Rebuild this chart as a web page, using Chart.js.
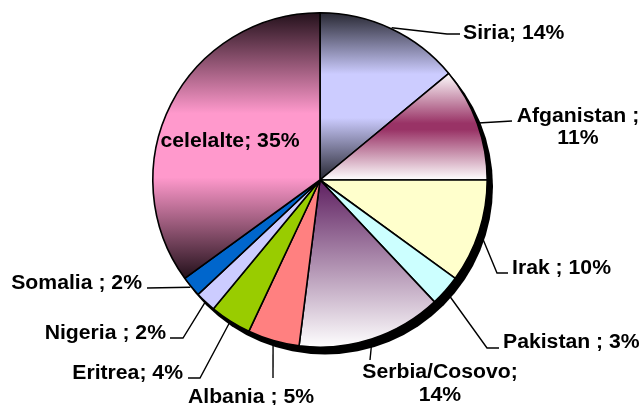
<!DOCTYPE html>
<html>
<head>
<meta charset="utf-8">
<script src="https://cdn.jsdelivr.net/npm/chart.js@4/dist/chart.umd.min.js"></script>
<style>
html,body{margin:0;padding:0;background:#fff;}
canvas{display:block;}
</style>
</head>
<body>
<canvas id="c" width="642" height="405"></canvas>
<script>
// ---- data ----
const categories = ['Siria', 'Afganistan', 'Irak', 'Pakistan', 'Serbia/Cosovo', 'Albania', 'Eritrea', 'Nigeria', 'Somalia', 'celelalte'];
const values = [14, 11, 10, 3, 14, 5, 4, 2, 2, 35];
const labelLines = [
  ['Siria; 14%'],
  ['Afganistan ;', '11%'],
  ['Irak ; 10%'],
  ['Pakistan ; 3%'],
  ['Serbia/Cosovo;', '14%'],
  ['Albania ; 5%'],
  ['Eritrea; 4%'],
  ['Nigeria ; 2%'],
  ['Somalia ; 2%'],
  ['celelalte; 35%']
];

// ---- styles ----
const fills = [
  {type: 'mid', edge: '#262630', mid: '#ccccff', w: 0.13},
  {type: 'mid', edge: '#ffffff', mid: '#993366', w: 0.03},
  '#ffffcc',
  '#ccffff',
  {type: 'lin', top: '#5e1f60', bottom: '#ffffff'},
  '#ff8080',
  '#99cc00',
  '#ccccff',
  '#0066cc',
  {type: 'mid', edge: '#22101a', mid: '#ff99cc', w: 0.12}
];
const solidFallback = ['#ccccff', '#993366', '#ffffcc', '#ccffff', '#996699', '#ff8080', '#99cc00', '#ccccff', '#0066cc', '#ff99cc'];

// label layout, offsets from pie centre
const labelLayout = [
  {pts: [[127, -146], [140, -146]], tx: 143, ty: [-147], align: 'left'},
  {pts: [[192, -59]], tx: 258, ty: [-64, -42], align: 'center'},
  {pts: [[177, 93], [188, 93]], tx: 192, ty: [88], align: 'left'},
  {pts: [[167, 168], [179, 168]], tx: 183, ty: [162], align: 'left'},
  {pts: [[50, 180]], tx: 120, ty: [192, 215], align: 'center'},
  {pts: [[-47, 198]], tx: -69, ty: [217], align: 'center'},
  {pts: [[-120, 198], [-132, 198]], tx: -137, ty: [193], align: 'right'},
  {pts: [[-137, 158], [-150, 158]], tx: -154, ty: [153], align: 'right'},
  {pts: [[-173, 108]], tx: -178, ty: [103], align: 'right'},
  {pts: null, tx: -90, ty: [-39], align: 'center'}
];

const total = values.reduce((a, b) => a + b, 0);

function geom(chart) {
  const area = chart.chartArea;
  const cx = (area.left + area.right) / 2;
  const cy = (area.top + area.bottom) / 2;
  const r = Math.min(area.right - area.left, area.bottom - area.top) / 2;
  return {cx, cy, r};
}

function sliceYRange(cx, cy, r, a0, a1) {
  let ys = [cy, cy + r * Math.sin(a0), cy + r * Math.sin(a1)];
  const norm = a => { while (a < a0) a += 2 * Math.PI; return a; };
  if (norm(-Math.PI / 2) <= a1) ys.push(cy - r);
  if (norm(Math.PI / 2) <= a1) ys.push(cy + r);
  return [Math.min(...ys), Math.max(...ys)];
}

function bg(ctx) {
  const chart = ctx.chart;
  const i = ctx.dataIndex;
  const f = fills[i];
  if (typeof f === 'string') return f;
  if (!chart.chartArea) return solidFallback[i];
  const {cx, cy, r} = geom(chart);
  let before = 0;
  for (let k = 0; k < i; k++) before += values[k];
  const a0 = -Math.PI / 2 + before / total * 2 * Math.PI;
  const a1 = a0 + values[i] / total * 2 * Math.PI;
  const [y0, y1] = sliceYRange(cx, cy, r, a0, a1);
  const g = chart.ctx.createLinearGradient(0, y0, 0, y1);
  if (f.type === 'mid') {
    g.addColorStop(0, f.edge);
    g.addColorStop(0.5 - f.w, f.mid);
    g.addColorStop(0.5 + f.w, f.mid);
    g.addColorStop(1, f.edge);
  } else {
    g.addColorStop(0, f.top);
    g.addColorStop(1, f.bottom);
  }
  return g;
}

const shadowAndLabels = {
  id: 'pieShadowLabels',
  afterDatasetsDraw(chart) {
    const meta = chart.getDatasetMeta(0);
    const c = chart.ctx;
    const first = meta.data[0];
    const px = first.x, py = first.y, pr = first.outerRadius;
    // drop shadow: fill an offset disc, clipped to the outside of the pie
    c.save();
    c.beginPath();
    c.rect(0, 0, chart.width, chart.height);
    c.arc(px, py, pr, 0, 2 * Math.PI, true);
    c.closePath();
    c.clip('evenodd');
    c.fillStyle = '#000000';
    c.beginPath();
    c.arc(px + 5, py + 6.5, pr + 0.8, 0, 2 * Math.PI);
    c.fill();
    c.restore();

    c.save();
    c.font = 'bold 20px "Liberation Sans", Arial, sans-serif';
    c.fillStyle = '#000';
    c.strokeStyle = '#000';
    c.lineWidth = 1.4;
    c.textBaseline = 'middle';
    meta.data.forEach((arc, i) => {
      const cx = arc.x, cy = arc.y;
      const L = labelLayout[i];
      if (L.pts) {
        const mid = (arc.startAngle + arc.endAngle) / 2;
        const r = arc.outerRadius + 1;
        c.beginPath();
        c.moveTo(cx + r * Math.cos(mid), cy + r * Math.sin(mid));
        L.pts.forEach(p => c.lineTo(cx + p[0], cy + p[1]));
        c.stroke();
      }
      labelLines[i].forEach((t, j) => {
        c.save();
        c.translate(cx + L.tx, cy + L.ty[j]);
        c.scale(1.06, 1);
        c.textAlign = L.align;
        c.fillText(t, 0, 0);
        c.restore();
      });
    });
    c.restore();
  }
};

new Chart(document.getElementById('c'), {
  type: 'pie',
  data: {
    labels: categories,
    datasets: [{
      data: values,
      backgroundColor: bg,
      borderColor: '#000',
      borderWidth: 1.6
    }]
  },
  options: {
    responsive: false,
    animation: false,
    events: [],
    devicePixelRatio: 1,
    layout: {padding: {left: 152, right: 154, top: 12, bottom: 57}},
    plugins: {legend: {display: false}, tooltip: {enabled: false}}
  },
  plugins: [shadowAndLabels]
});
</script>
</body>
</html>
